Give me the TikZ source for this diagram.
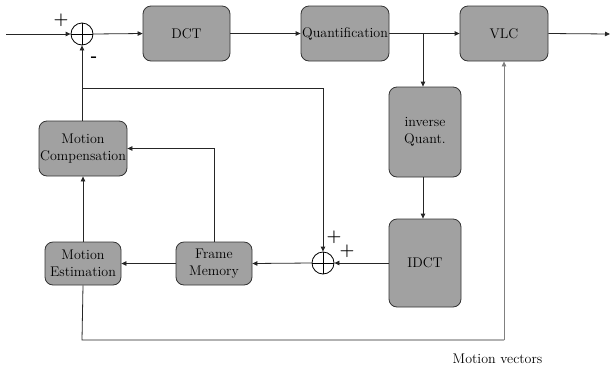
\documentclass[tikz,border=0pt]{standalone}
\usetikzlibrary{arrows.meta}
\begin{document}
\begin{tikzpicture}[x=1pt,y=-1pt,
  blk/.style={draw=black!80,fill=black!37,rounded corners=8pt,line width=0.8pt,
    inner sep=0pt,align=center,font=\fontsize{14}{17}\selectfont},
  sumnode/.style={draw,circle,minimum size=22pt,inner sep=0pt,line width=0.8pt,
    path picture={\draw[line width=0.7pt] (path picture bounding box.north) -- (path picture bounding box.south)
      (path picture bounding box.west) -- (path picture bounding box.east);}},
  wire/.style={line width=0.8pt,draw=black!85},
  arr/.style={wire,-{Triangle[length=5pt,width=4.5pt]}},
  sign/.style={font=\bfseries\fontsize{17}{17}\selectfont,inner sep=0pt},
  lbl/.style={font=\fontsize{14}{17}\selectfont,inner sep=0pt}]
\useasboundingbox (0,0) rectangle (611,368);
% processing blocks
\node[blk,minimum width=87pt,minimum height=55pt] (dct) at (186.5,33.5) {DCT};
\node[blk,minimum width=88pt,minimum height=55pt] (quant) at (345,33.5) {Quantification};
\node[blk,minimum width=88pt,minimum height=55pt] (vlc) at (504,33.5) {VLC};
\node[blk,minimum width=72pt,minimum height=90pt] (iq) at (425,132) {inverse\\Quant.};
\node[blk,minimum width=72pt,minimum height=88pt] (idct) at (425,263) {IDCT};
\node[blk,minimum width=88pt,minimum height=55pt] (mc) at (83,148.5) {Motion\\Compensation};
\node[blk,minimum width=76pt,minimum height=43pt] (me) at (83,263.5) {Motion\\Estimation};
\node[blk,minimum width=76pt,minimum height=43pt] (fm) at (214,263.5) {Frame\\Memory};
% summing junctions
\node[sumnode] (s1) at (82,34) {};
\node[sumnode] (s2) at (323,263) {};
% signs
\node[sign] at (61,20) {+};
\node[sign] at (94,59) {-};
\node[sign] at (334,237) {+};
\node[sign] at (347,251) {+};
% auxiliary points
\coordinate (in) at (6,34);
\coordinate (out) at (610,34);
\coordinate (br) at (423,34);
\coordinate (fb) at (82,88);
\coordinate (fbr) at (323,88);
\coordinate (mvl) at (82,340);
\coordinate (mvr) at (504,340);
% forward path
\draw[arr] (in) -- (s1.west);
\draw[arr] (s1.east) -- (dct.west);
\draw[arr] (dct.east) -- (quant.west);
\draw[arr] (quant.east) -- (vlc.west);
\draw[arr] (vlc.east) -- (out);
% reconstruction loop
\draw[arr] (br) -- (br |- iq.north);
\draw[arr] (iq.south -| br) -- (idct.north -| br);
\draw[arr] (idct.west |- s2) -- (s2.east);
\draw[arr] (s2.west) -- (fm.east);
\draw[arr] (fm.west) -- (me.east);
\draw[arr] (fm.north) |- (mc.east);
\draw[arr] (me.north) -- (mc.south);
\draw[arr] (mc.north -| s1) -- (s1.south);
\draw[arr] (fb) -- (fbr) -- (s2.north);
% motion vectors to the entropy coder
\draw[wire] (me.south) -- (mvl) -- (mvr);
\draw[arr,draw=black!50] (mvr) -- (vlc.south -| mvr);
\node[lbl] (mvtext) at (497.5,359) {Motion vectors};
\end{tikzpicture}
\end{document}
